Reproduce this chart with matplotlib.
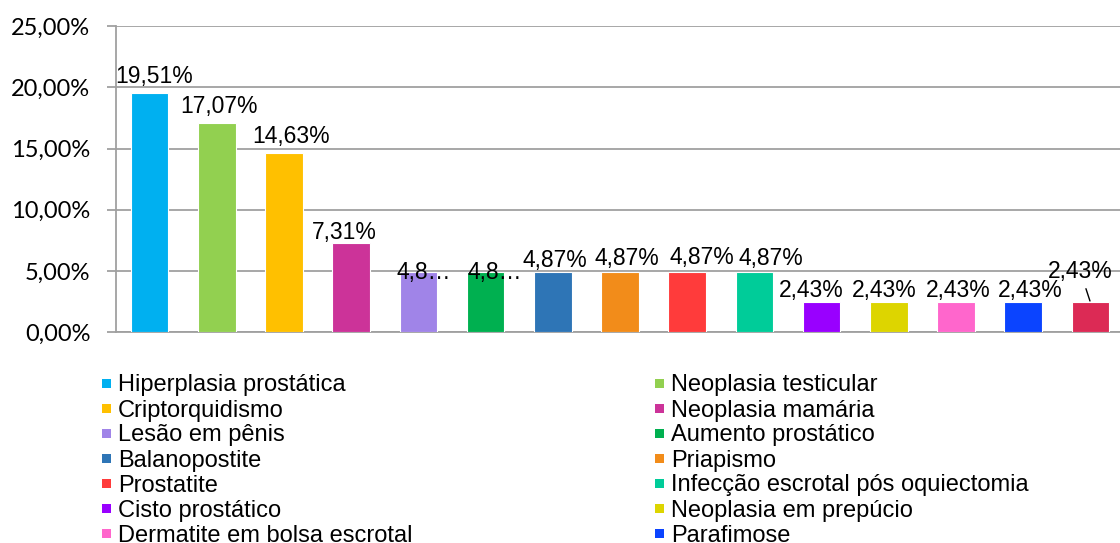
import matplotlib
matplotlib.use("Agg")
import matplotlib.pyplot as plt
from matplotlib.patches import Rectangle
from matplotlib.ticker import FuncFormatter

categories = [
    "Hiperplasia prostática", "Neoplasia testicular", "Criptorquidismo",
    "Neoplasia mamária", "Lesão em pênis", "Aumento prostático",
    "Balanopostite", "Priapismo", "Prostatite",
    "Infecção escrotal pós oquiectomia", "Cisto prostático",
    "Neoplasia em prepúcio", "Dermatite em bolsa escrotal", "Parafimose",
    "Outra",
]
values = [19.51, 17.07, 14.63, 7.31, 4.87, 4.87, 4.87, 4.87, 4.87, 4.87,
          2.43, 2.43, 2.43, 2.43, 2.43]
labels = ["19,51%", "17,07%", "14,63%", "7,31%", "4,8…", "4,8…", "4,87%",
          "4,87%", "4,87%", "4,87%", "2,43%", "2,43%", "2,43%", "2,43%",
          "2,43%"]
legend_shown = 14
yticks = [0, 5, 10, 15, 20, 25]

colors = ["#00B0F0", "#92D050", "#FFC000", "#CC3399", "#A084E8", "#00B050",
          "#2E75B6", "#F28C1A", "#FF3B3B", "#00CC99", "#9900FF", "#DDD500",
          "#FF66CC", "#0B44FF", "#DC2A55"]
# label placement offsets (pixels) relative to bar top centre
lab_dx = [5, 2, 7, -7, 5, 9, 2, 7, 15, 16, -10, -5, 2, 7, -10]
lab_dy = [10, 10, 10, 4, -7, -7, 5, 7, 8, 7, 5, 5, 5, 5, 24]
leader = [False] * 14 + [True]

W, H = 1120, 543
fig = plt.figure(figsize=(W / 100, H / 100), dpi=100)
ax = fig.add_axes([116 / W, (H - 332) / H, 1008 / W, 306 / H])

x = list(range(len(values)))
ax.bar(x, values, width=0.56, color=colors, edgecolor="white", linewidth=0.8, zorder=3)
ax.set_xlim(-0.5, len(values) - 0.5)
ax.set_ylim(0, 25.02)
ax.set_yticks(yticks)
ax.yaxis.set_major_formatter(FuncFormatter(lambda v, p: f"{v:.2f}".replace(".", ",") + "%"))
ax.set_xticks([])
gc = "#A0A0A0"
ax.grid(axis="y", color=gc, linewidth=1.3, zorder=0)
for s in ["top", "right"]:
    ax.spines[s].set_visible(False)
for s in ["left", "bottom"]:
    ax.spines[s].set_color(gc)
    ax.spines[s].set_linewidth(1.3)
ax.tick_params(axis="y", length=6.5, width=1.3, color=gc, pad=12,
               labelsize=17, labelcolor="#000000")
for t in ax.get_yticklabels():
    t.set_fontfamily("Lato")

px = 0.72
for i, (v, lab) in enumerate(zip(values, labels)):
    kw = {}
    if leader[i]:
        kw["arrowprops"] = dict(arrowstyle="-", color="black", lw=1.0,
                                shrinkA=2, shrinkB=1)
    ax.annotate(lab, (i, v), xytext=(lab_dx[i] * px, lab_dy[i] * px),
                textcoords="offset points", ha="center", va="baseline",
                fontsize=16.5, fontfamily="Liberation Sans", color="black",
                zorder=5, **kw)

# legend (row-major, two columns)
col_mark = [106, 659]
col_text = [118, 671]
y0, pitch, msz = 383, 25, 9
for i in range(legend_shown):
    r, c = divmod(i, 2)
    yc = y0 + r * pitch
    fig.add_artist(Rectangle(((col_mark[c] - msz / 2) / W, (H - yc - msz / 2) / H),
                             msz / W, msz / H, transform=fig.transFigure,
                             facecolor=colors[i], edgecolor="none"))
    fig.text(col_text[c] / W, (H - yc) / H, categories[i], ha="left",
             va="center_baseline", fontsize=17, fontfamily="Liberation Sans",
             color="black")

fig.savefig("out.png", dpi=100)
